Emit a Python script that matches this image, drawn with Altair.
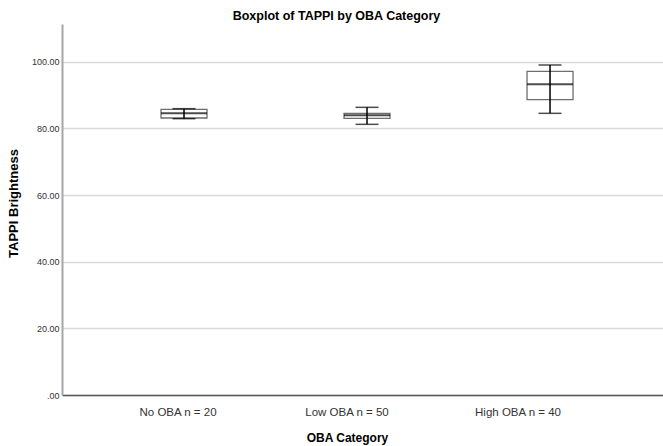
import altair as alt
import pandas as pd

categories = ["No OBA n = 20", "Low OBA n = 50", "High OBA n = 40"]
lower = [82.9, 81.2, 84.5]
q1 = [83.1, 83.0, 88.6]
median = [84.5, 83.9, 93.2]
q3 = [85.7, 84.5, 97.1]
upper = [85.9, 86.3, 99.0]
y_ticks = [0, 20, 40, 60, 80, 100]

df = pd.DataFrame({
    "cat": categories,
    "lower": lower,
    "q1": q1,
    "median": median,
    "q3": q3,
    "upper": upper,
})

FONT = "Liberation Sans"

x_enc = alt.X(
    "cat:N",
    sort=categories,
    scale=alt.Scale(paddingInner=0, paddingOuter=0.142, align=0.587),
    axis=alt.Axis(
        title="OBA Category",
        labelAngle=0,
        ticks=False,
        domainColor="#555555",
        domainWidth=1.5,
        labelFontSize=11.5,
        labelColor="#333333",
        labelPadding=11,
        labelOffset={
            "condition": [
                {"test": f"datum.value == '{categories[1]}'", "value": -20},
                {"test": f"datum.value == '{categories[2]}'", "value": -32},
            ],
            "value": -6,
        },
        titleFontSize=12,
        titleFontWeight="bold",
        titleColor="#000000",
        titleX=285,
        titleY=42,
        titleBaseline="middle",
    ),
)

y_scale = alt.Scale(domain=[0, 111.3], nice=False, zero=True)
y_axis = alt.Axis(
    title="TAPPI Brightness",
    values=y_ticks,
    labelExpr="datum.value == 0 ? '.00' : format(datum.value, '.2f')",
    ticks=False,
    grid=True,
    gridColor="#d9d9d9",
    gridWidth=1.5,
    domainColor="#a6a6a6",
    domainWidth=2,
    labelFontSize=9,
    labelColor="#333333",
    labelPadding=3,
    titleFontSize=13,
    titleFontWeight="bold",
    titleColor="#000000",
    titleX=-49,
    titleY=179,
    titleBaseline="middle",
)

base = alt.Chart(df)

box = base.mark_bar(size=46, fill="white", stroke="#6e6e6e", strokeWidth=1.3).encode(
    x=x_enc,
    y=alt.Y("q1:Q", scale=y_scale, axis=y_axis),
    y2="q3:Q",
)

whisker = base.mark_rule(color="black", strokeWidth=1.5).encode(
    x=alt.X("cat:N", sort=categories),
    y="lower:Q",
    y2="upper:Q",
)

cap_lo = base.mark_tick(size=23, thickness=1.5, color="black").encode(
    x=alt.X("cat:N", sort=categories),
    y="lower:Q",
)
cap_hi = base.mark_tick(size=23, thickness=1.5, color="black").encode(
    x=alt.X("cat:N", sort=categories),
    y="upper:Q",
)
med = base.mark_tick(size=46, thickness=2, color="black").encode(
    x=alt.X("cat:N", sort=categories),
    y="median:Q",
)

chart = alt.layer(box, whisker, cap_lo, cap_hi, med).properties(
    width=601,
    height=371,
    title=alt.TitleParams(
        "Boxplot of TAPPI by OBA Category",
        fontSize=12.5,
        fontWeight="bold",
        font=FONT,
        color="#000000",
        anchor="middle",
        dx=-26,
        dy=13,
        baseline="middle",
        offset=9,
    ),
    autosize=alt.AutoSizeParams(type="none"),
    padding={"left": 62, "top": 24, "right": 0, "bottom": 51},
).configure(
    font=FONT,
    background="white",
).configure_view(
    stroke=None,
)

chart.save("out.html", embed_options={"renderer": "svg", "actions": False})
